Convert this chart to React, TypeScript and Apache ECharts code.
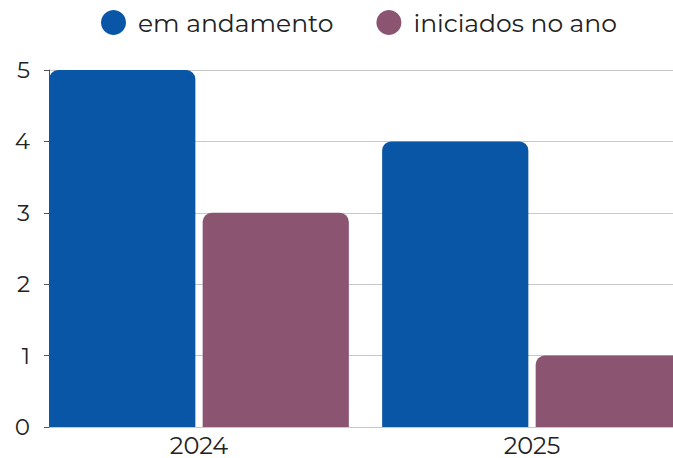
import React, { useEffect, useRef } from "react";
import * as echarts from "echarts";

const categories = ["2024", "2025"];
const emAndamento = [5, 4];
const iniciadosNoAno = [3, 1];
const seriesNames = ["em andamento", "iniciados no ano"];

export default function App() {
  const ref = useRef<HTMLDivElement>(null);
  useEffect(() => {
    document.body.style.margin = "0";
    const chart = echarts.init(ref.current!, null, { renderer: "svg" });
    const font = "Montserrat, 'Noto Sans', sans-serif";
    chart.setOption({
      animation: false,
      textStyle: { fontFamily: font },
      legend: {
        left: 101,
        top: 10,
        padding: 0,
        icon: "circle",
        itemWidth: 25,
        itemHeight: 25,
        itemGap: 43,
        textStyle: { fontSize: 25, color: "#222", fontFamily: font, padding: [0, 0, 0, 7] },
        data: seriesNames,
      },
      grid: [
        { left: 32.5, width: 666, top: 70, bottom: 31, containLabel: false },
        { left: 49, width: 624, top: 70, bottom: 31, containLabel: false },
      ],
      xAxis: [
        {
          type: "category",
          gridIndex: 0,
          data: categories,
          axisTick: { show: false },
          axisLine: { show: false },
          axisLabel: { fontSize: 24, lineHeight: 20, color: "#222", margin: 8, fontFamily: font },
        },
        { type: "value", gridIndex: 1, show: false, min: 0, max: 1 },
      ],
      yAxis: [
        {
          type: "value",
          gridIndex: 0,
          min: 0,
          max: 5,
          interval: 1,
          axisLabel: { show: false },
          splitLine: { show: false },
        },
        {
          type: "value",
          gridIndex: 1,
          min: 0,
          max: 5,
          interval: 1,
          axisLabel: { fontSize: 23, color: "#222", margin: 19, fontFamily: font },
          splitLine: { lineStyle: { color: "#c8c8c8" } },
        },
      ],
      series: [
        {
          name: seriesNames[0],
          type: "bar",
          xAxisIndex: 0,
          yAxisIndex: 0,
          data: emAndamento,
          itemStyle: { color: "#0a56a6", borderRadius: [9, 9, 0, 0] },
          barGap: "5%",
          barCategoryGap: "10%",
        },
        {
          name: seriesNames[1],
          type: "bar",
          xAxisIndex: 0,
          yAxisIndex: 0,
          data: iniciadosNoAno,
          itemStyle: { color: "#8b5571", borderRadius: [9, 9, 0, 0] },
        },
      ],
    });
    return () => chart.dispose();
  }, []);
  return (
    <div style={{ width: 673, height: 458, overflow: "hidden", position: "relative" }}>
      <div ref={ref} style={{ width: 720, height: 458 }} />
    </div>
  );
}
